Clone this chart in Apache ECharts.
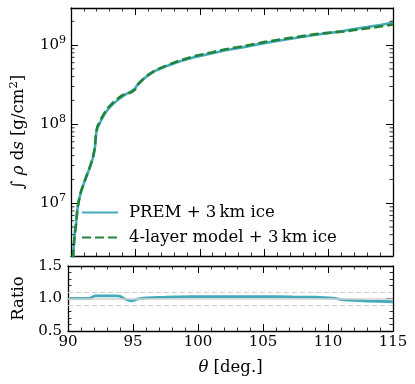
<!DOCTYPE html>
<html><head><meta charset="utf-8">
<script src="https://cdn.jsdelivr.net/npm/echarts@6/dist/echarts.min.js"></script>
<style>html,body{margin:0;padding:0;background:#fff}#c{width:415px;height:384px}</style>
</head><body><div id="c"></div>
<script>
const theta = [90.15, 90.22, 90.3, 90.38, 90.5, 90.62, 90.8, 91.0, 91.2, 91.4,
  91.69, 91.85, 91.95, 92.05, 92.2, 92.41, 92.65, 92.92, 93.3, 93.69,
  94.0, 94.3, 94.7, 94.97, 95.23, 95.6, 96.0, 96.5, 97.5, 98.4,
  99.5, 100.9, 102, 103.5, 105, 106, 107.3, 109, 110.4, 111.2,
  112, 113, 114, 115];
const prem = [2.0e6, 3.0e6, 4.2e6, 5.2e6, 8.5e6, 1.1e7, 1.45e7, 1.78e7, 2.2e7, 2.65e7,
  3.7e7, 4.9e7, 7.6e7, 9.0e7, 1.0e8, 1.18e8, 1.38e8, 1.58e8, 1.82e8, 2.06e8,
  2.25e8, 2.42e8, 2.62e8, 2.83e8, 3.27e8, 3.7e8, 4.17e8, 4.7e8, 5.5e8, 6.2e8,
  7.0e8, 7.85e8, 8.6e8, 9.5e8, 1.06e9, 1.13e9, 1.22e9, 1.35e9, 1.45e9, 1.52e9,
  1.6e9, 1.7e9, 1.8e9, 1.92e9];
const fourLayer = [2.0e6, 3.0e6, 4.2e6, 5.2e6, 8.5e6, 1.1e7, 1.45e7, 1.78e7, 2.2e7, 2.65e7,
  3.7e7, 5.0e7, 7.83e7, 9.36e7, 1.04e8, 1.227e8, 1.435e8, 1.643e8, 1.893e8, 2.142e8,
  2.329e8, 2.42e8, 2.541e8, 2.731e8, 3.221e8, 3.7e8, 4.212e8, 4.771e8, 5.61e8, 6.355e8,
  7.21e8, 8.086e8, 8.858e8, 9.785e8, 1.092e9, 1.164e9, 1.251e9, 1.377e9, 1.457e9, 1.49e9,
  1.552e9, 1.632e9, 1.719e9, 1.824e9];
const ratio = [1.0, 1.0, 1.0, 1.0, 1.0, 1.0, 1.0, 1.0, 1.0, 1.0,
  1.0, 1.02, 1.03, 1.04, 1.04, 1.04, 1.04, 1.04, 1.04, 1.04,
  1.035, 1.0, 0.97, 0.965, 0.985, 1.0, 1.01, 1.015, 1.02, 1.025,
  1.03, 1.03, 1.03, 1.03, 1.03, 1.03, 1.025, 1.02, 1.005, 0.98,
  0.97, 0.96, 0.955, 0.95];
const seriesNames = ['PREM + 3\u2009km ice', '4-layer model + 3\u2009km ice'];
const xTicks = [90, 95, 100, 105, 110, 115];
const ratioTicks = [0.5, 1.0, 1.5];

const FONT = 'DejaVu Serif';
const CYAN = '#44abbd';
const GREEN = '#22843a';
const yMin = 2.15e6, yMax = 2.95e9;

// log minor tick values (axis decoration)
const logMinor = [];
for (let e = 6; e <= 9; e++) for (let k = 2; k <= 9; k++) {
  const v = k * Math.pow(10, e);
  if (v > yMin && v < yMax) logMinor.push(v);
}

const axisLine = { show: true, lineStyle: { color: '#000', width: 1.3 } };
const tickIn = { show: true, inside: true, length: 7, lineStyle: { color: '#000', width: 1 } };
const minorIn = { show: true, splitNumber: 5, length: 3.5, lineStyle: { color: '#000', width: 0.8 } };
const tl = { fontFamily: FONT, fontSize: 15, color: '#000' };
const lbl = { fontFamily: FONT, fontSize: 16.5, color: '#000' };

const chart = echarts.init(document.getElementById('c'), null, { renderer: 'canvas' });
chart.setOption({
  animation: false,
  backgroundColor: '#fff',
  grid: [
    { left: 68, top: 8, width: 325, height: 248, containLabel: false },
    { left: 68, top: 266, width: 325, height: 65, containLabel: false }
  ],
  xAxis: [
    { gridIndex: 0, type: 'value', min: 90, max: 115, interval: 5, position: 'bottom',
      axisLine, axisTick: tickIn, minorTick: minorIn, splitLine: { show: false }, axisLabel: { show: false } },
    { gridIndex: 0, type: 'value', min: 90, max: 115, interval: 5, position: 'top',
      axisLine, axisTick: tickIn, minorTick: minorIn, splitLine: { show: false }, axisLabel: { show: false } },
    { gridIndex: 1, type: 'value', min: 90, max: 115, interval: 5, position: 'bottom',
      axisLine, axisTick: tickIn, minorTick: minorIn, splitLine: { show: false },
      axisLabel: Object.assign({ margin: 4, formatter: v => xTicks.includes(v) ? String(v) : '' }, tl),
      name: '{i|θ} [deg.]', nameLocation: 'middle', nameGap: 28,
      nameTextStyle: Object.assign({ rich: { i: { fontFamily: FONT, fontSize: 16.5, fontStyle: 'italic' } } }, lbl) },
    { gridIndex: 1, type: 'value', min: 90, max: 115, interval: 5, position: 'top',
      axisLine, axisTick: tickIn, minorTick: minorIn, splitLine: { show: false }, axisLabel: { show: false } }
  ],
  yAxis: [
    { gridIndex: 0, type: 'log', logBase: 10, min: yMin, max: yMax, position: 'left',
      axisLine, axisTick: tickIn, splitLine: { show: false },
      axisLabel: { margin: 5, showMinLabel: false, showMaxLabel: false,
        formatter: v => { const e = Math.round(Math.log10(v)); return Math.abs(Math.log10(v) - e) < 1e-6 ? '{b|10}{s|' + e + '}' : ''; },
        rich: { b: { fontFamily: FONT, fontSize: 15, color: '#000', lineHeight: 20 },
                s: { fontFamily: FONT, fontSize: 11, color: '#000', padding: [0, 0, 10, 0], lineHeight: 20 } } },
      name: '\u222B {i|ρ} d{i|s} [g/cm{s|2}]', nameLocation: 'middle', nameGap: 40, nameRotate: 90,
      nameTextStyle: Object.assign({ rich: {
        i: { fontFamily: FONT, fontSize: 16.5, fontStyle: 'italic', lineHeight: 20 },
        s: { fontFamily: FONT, fontSize: 11.5, padding: [0, 0, 9, 0], lineHeight: 20 } } }, lbl) },
    { gridIndex: 0, type: 'log', logBase: 10, min: yMin, max: yMax, position: 'right',
      axisLine, axisTick: tickIn, splitLine: { show: false }, axisLabel: { show: false } },
    { gridIndex: 1, type: 'value', min: 0.5, max: 1.5, interval: 0.5, position: 'left',
      axisLine, axisTick: tickIn, minorTick: minorIn, splitLine: { show: false },
      axisLabel: Object.assign({ margin: 6, formatter: v => ratioTicks.includes(+v.toFixed(2)) ? v.toFixed(1) : '' }, tl),
      name: 'Ratio', nameLocation: 'middle', nameGap: 35, nameRotate: 90, nameTextStyle: lbl },
    { gridIndex: 1, type: 'value', min: 0.5, max: 1.5, interval: 0.5, position: 'right',
      axisLine, axisTick: tickIn, minorTick: minorIn, splitLine: { show: false }, axisLabel: { show: false } }
  ],
  legend: {
    data: seriesNames, orient: 'vertical', left: 76, top: 199,
    itemWidth: 36, itemHeight: 14, itemGap: 8,
    itemStyle: { opacity: 0 },
    textStyle: Object.assign({ padding: [0, 0, 0, 6], lineHeight: 16 }, lbl),
    selectedMode: false
  },
  series: [
    { type: 'custom', xAxisIndex: 0, yAxisIndex: 0, silent: true, clip: false, z: 5,
      data: logMinor.map(v => [90, v]), encode: { x: 0, y: 1 },
      renderItem: (params, api) => {
        const v = api.value(1);
        const a = api.coord([90, v]), b = api.coord([115, v]);
        const st = { stroke: '#000', lineWidth: 0.8 };
        return { type: 'group', children: [
          { type: 'line', shape: { x1: a[0], y1: a[1], x2: a[0] + 3.5, y2: a[1] }, style: st },
          { type: 'line', shape: { x1: b[0] - 3.5, y1: b[1], x2: b[0], y2: b[1] }, style: st }
        ] };
      } },
    { name: seriesNames[0], type: 'line', xAxisIndex: 0, yAxisIndex: 0, symbol: 'none', z: 2,
      data: theta.map((t, i) => [t, prem[i]]), lineStyle: { color: CYAN, width: 2.6 }, itemStyle: { color: CYAN } },
    { name: seriesNames[1], type: 'line', xAxisIndex: 0, yAxisIndex: 0, symbol: 'none', z: 3,
      data: theta.map((t, i) => [t, fourLayer[i]]), lineStyle: { color: GREEN, width: 2.6, type: [9, 4] }, itemStyle: { color: GREEN } },
    { name: 'ref', type: 'line', xAxisIndex: 2, yAxisIndex: 2, data: [], z: 1, silent: true,
      markLine: { silent: true, symbol: 'none', label: { show: false },
        data: [
          { yAxis: 1.1, lineStyle: { color: '#cfcfcf', width: 1, type: [5, 3] } },
          { yAxis: 0.9, lineStyle: { color: '#cfcfcf', width: 1, type: [5, 3] } },
          { yAxis: 1.0, lineStyle: { color: '#d2d2d2', width: 1.6, type: 'solid' } }
        ] } },
    { name: 'ratio', type: 'line', xAxisIndex: 2, yAxisIndex: 2, symbol: 'none', z: 3,
      data: theta.map((t, i) => [t, ratio[i]]), lineStyle: { color: CYAN, width: 2.8 } }
  ]
});
</script></body></html>
